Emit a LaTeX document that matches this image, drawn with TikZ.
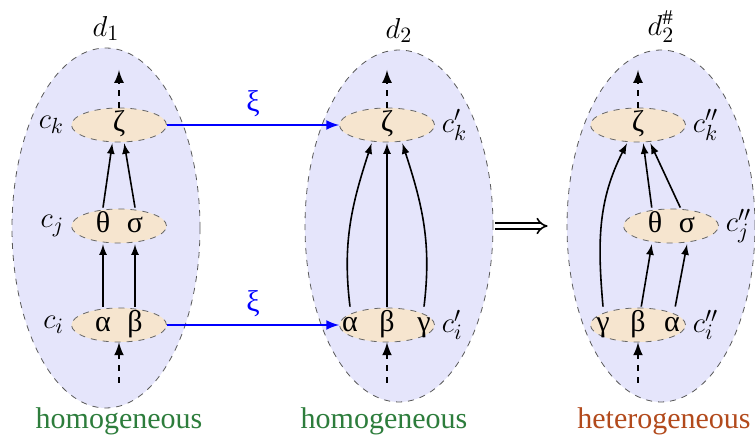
\documentclass[tikz,border=0pt]{standalone}
\usepackage{fontspec}
\setmainfont{Liberation Serif}
\usetikzlibrary{arrows.meta,shapes.geometric}
\definecolor{setfill}{RGB}{229,229,251}
\definecolor{grpfill}{RGB}{246,229,207}
\definecolor{homgreen}{RGB}{45,125,60}
\definecolor{hetbrown}{RGB}{178,74,28}

\begin{document}
\begin{tikzpicture}[x=0.5pt, y=0.5pt, font=\fontsize{15}{18}\selectfont,
  doc/.style={ellipse, draw=black!65, dashed, fill=setfill, minimum width=94pt, inner sep=0pt},
  grp/.style={ellipse, draw=black!60, dashed, fill=grpfill, minimum width=47.5pt, minimum height=17pt, inner sep=0pt},
  sym/.style={inner sep=0pt, minimum width=15pt, minimum height=18pt, text height=7pt, text depth=0pt},
  dep/.style={thick, -latex},
  flow/.style={very thick, dashed, -latex},
  map/.style={very thick, blue, -latex}]
\useasboundingbox (0,0) rectangle (755,438);
% documents:
\node[doc, minimum height=180pt, label={above:$d_1$}] (d1) at (106,210) {};
\node[doc, minimum height=176pt, label={above:$d_2$}] (d2) at (399,212) {};
\node[doc, minimum height=176pt, label={above:$d_2^{\#}$}] (d3) at (661,212) {};
\node[text=homgreen] (h1) at (119,17) {homogeneous};
\node[text=homgreen] (h2) at (384,17) {homogeneous};
\node[text=hetbrown] (h3) at (664,17) {heterogeneous};
% groups:
\node[grp, label={left:$c_k$}] (k1) at (119,313) {};
\node[grp, label={left:$c_j$}] (j1) at (119,212) {};
\node[grp, label={left:$c_i$}] (i1) at (119,113) {};
\node[grp, label={right:$c'_k$}] (k2) at (387,313) {};
\node[grp, label={right:$c'_i$}] (i2) at (387,113) {};
\node[grp, label={right:$c''_k$}] (k3) at (638,313) {};
\node[grp, label={right:$c''_j$}] (j3) at (671,212) {};
\node[grp, label={right:$c''_i$}] (i3) at (638,113) {};
% symbols:
\node[sym] (z1) at (119,313) {ζ};
\node[sym] (t1) at (103,212) {θ};
\node[sym] (s1) at (135,212) {σ};
\node[sym] (a1) at (103,113) {α};
\node[sym] (b1) at (135,113) {β};
\node[sym] (z2) at (387,313) {ζ};
\node[sym] (a2) at (350,113) {α};
\node[sym] (b2) at (387,113) {β};
\node[sym] (g2) at (424,113) {γ};
\node[sym] (z3) at (638,313) {ζ};
\node[sym] (t3) at (655,212) {θ};
\node[sym] (s3) at (687,212) {σ};
\node[sym] (g3) at (603,113) {γ};
\node[sym] (b3) at (638,113) {β};
\node[sym] (a3) at (672,113) {α};
% open ends:
\coordinate (top1) at (119,368);
\coordinate (bot1) at (119,55);
\coordinate (top2) at (387,368);
\coordinate (bot2) at (387,55);
\coordinate (top3) at (638,368);
\coordinate (bot3) at (638,55);
% d1 arrows:
\draw[dep] (a1) -- (t1);
\draw[dep] (b1) -- (s1);
\draw[dep] (t1.north) -- (z1.-110);
\draw[dep] (s1.north) -- (z1.-74);
% d2 arrows:
\draw[dep] (a2.north) to[out=97, in=-108] (z2.south west);
\draw[dep] (b2) -- (z2);
\draw[dep] (g2.north) to[out=83, in=-72] (z2.south east);
% d3 arrows:
\draw[dep] (g3.north) to[out=95, in=-117] (z3.-121);
\draw[dep] (b3.80) -- (t3.-100);
\draw[dep] (a3.80) -- (s3.south);
\draw[dep] (t3.100) -- (z3.-74);
\draw[dep] (s3.110) -- (z3.-56);
% dashed flows:
\foreach \n in {1,2,3}{
  \draw[flow] (k\n.north) -- (top\n);
  \draw[flow] (bot\n) -- (i\n.south);
}
% mapping:
\draw[map] (k1) -- node[above] {ξ} (k2);
\draw[map] (i1) -- node[above] {ξ} (i2);
\draw[-{Implies}, double, line width=0.8pt, double distance=2pt, shorten <=1pt, shorten >=9.5pt] (d2) -- (d3);
\end{tikzpicture}
\end{document}
